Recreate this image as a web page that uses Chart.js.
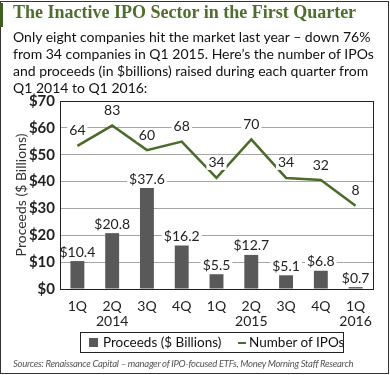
<!DOCTYPE html>
<html>
<head>
<meta charset="utf-8">
<script src="https://cdn.jsdelivr.net/npm/chart.js@4"></script>
<style>
  html, body { margin: 0; padding: 0; background: #fff; }
  #wrap { position: relative; width: 390px; height: 375px; overflow: hidden; }
  #frame { position: absolute; left: 0; top: 1px; width: 387px; height: 371px; border: 1px solid #333; }
  #bar { position: absolute; left: 0; top: 3px; width: 3px; height: 24px; background: #3f5e24; }
  #title { position: absolute; left: 13px; top: 2px; font: bold 18px "Liberation Serif", serif; color: #4f6e2e; white-space: nowrap; }
  #sub { position: absolute; left: 13px; top: 28px; font: 14px Lato, sans-serif; line-height: 17px; color: #111; white-space: nowrap; }
  #chart { position: absolute; left: 0; top: 0; }
  #legend { position: absolute; left: 80px; top: 332px; width: 262px; height: 19px; border: 1px solid #222; white-space: nowrap;
            font: 13.5px Lato, sans-serif; color: #111; }
  #legend span { position: absolute; top: 1px; }
  .sw { position: absolute; left: 8px; top: 5px; width: 9px; height: 9px; background: #595959; }
  .ln { position: absolute; left: 157px; top: 9px; width: 8px; height: 2px; background: #4a6b2a; }
  #src { position: absolute; left: 13px; top: 358px; font: italic 9.5px Lato, sans-serif; color: #555; white-space: nowrap; letter-spacing: -0.28px; }
</style>
</head>
<body>
<div id="wrap">
  <canvas id="chart" width="390" height="375"></canvas>
  <div id="frame"></div>
  <div id="bar"></div>
  <div id="title">The Inactive IPO Sector in the First Quarter</div>
  <div id="sub">Only eight companies hit the market last year – down 76%<br>from 34 companies in Q1 2015. Here’s the number of IPOs<br>and proceeds (in $billions) raised during each quarter from<br>Q1 2014 to Q1 2016:</div>
  <div id="legend"><i class="sw"></i><span style="left:22px">Proceeds ($ Billions)</span><i class="ln"></i><span style="left:168px">Number of IPOs</span></div>
  <div id="src">Sources: Renaissance Capital – manager of IPO-focused ETFs, Money Morning Staff Research</div>
</div>
<script>
const quarters = [["1Q"], ["2Q", "2014"], ["3Q"], ["4Q"], ["1Q"], ["2Q", "2015"], ["3Q"], ["4Q"], ["1Q", "2016"]];
const proceeds = [10.4, 20.8, 37.6, 16.2, 5.5, 12.7, 5.1, 6.8, 0.7];
const ipoCounts = [64, 83, 60, 68, 34, 70, 34, 32, 8];
const yTicks = [0, 10, 20, 30, 40, 50, 60, 70];

const font = "Lato, sans-serif";

// box round the plot area
const frameBox = {
  id: "frameBox",
  afterDraw(chart) {
    const a = chart.chartArea, c = chart.ctx;
    c.save();
    c.strokeStyle = "#222";
    c.lineWidth = 1;
    c.strokeRect(Math.round(a.left) + 0.5, Math.round(a.top) + 0.5, Math.round(a.width), Math.round(a.height));
    c.restore();
  }
};

// value labels with white backing
const valueLabels = {
  id: "valueLabels",
  afterDatasetsDraw(chart) {
    const c = chart.ctx;
    c.save();
    c.font = "14px " + font;
    c.textAlign = "center";
    c.textBaseline = "middle";
    chart.data.datasets.forEach((ds, i) => {
      const meta = chart.getDatasetMeta(i);
      meta.data.forEach((el, j) => {
        const txt = ds.labelText[j];
        const w = c.measureText(txt).width + 4;
        const y = ds.type === "bar" ? el.y - 9 : el.y - 15;
        c.fillStyle = "#fff";
        c.fillRect(el.x - w / 2, y - 7, w, 14);
        c.fillStyle = "#222";
        c.fillText(txt, el.x, y);
      });
    });
    c.restore();
  }
};

new Chart(document.getElementById("chart"), {
  data: {
    labels: quarters,
    datasets: [
      {
        type: "line",
        label: "Number of IPOs",
        data: ipoCounts,
        labelText: ipoCounts.map(String),
        yAxisID: "y1",
        borderColor: "#4a6b2a",
        borderWidth: 2.5,
        pointRadius: 0,
        tension: 0,
        order: 0
      },
      {
        type: "bar",
        label: "Proceeds ($ Billions)",
        data: proceeds,
        labelText: proceeds.map(v => "$" + v),
        yAxisID: "y",
        backgroundColor: "#595959",
        categoryPercentage: 0.8,
        barPercentage: 0.5,
        order: 1
      }
    ]
  },
  options: {
    responsive: false,
    animation: false,
    layout: { padding: { top: 101, right: 17, bottom: 46, left: 0 } },
    plugins: {
      legend: { display: false },
      tooltip: { enabled: false }
    },
    scales: {
      x: {
        grid: { display: false },
        border: { color: "#222" },
        ticks: { color: "#222", font: { family: font, size: 14, lineHeight: 1.05 }, padding: 2, maxRotation: 0, autoSkip: false },
        afterFit(s) { s.height = 40; }
      },
      y: {
        min: 0, max: 70,
        afterBuildTicks(s) { s.ticks = yTicks.map(v => ({ value: v })); },
        grid: { color: "#a6a6a6", drawTicks: false },
        border: { color: "#222" },
        ticks: { color: "#222", font: { family: font, size: 15, weight: "bold" }, padding: 5, callback: v => "$" + v },
        title: { display: true, text: "Proceeds ($ Billions)", color: "#333", font: { family: font, size: 14 }, padding: { top: 13, bottom: 0 } },
        afterFit(s) { s.width = 60; }
      },
      y1: {
        display: false,
        min: -70, max: 106
      }
    }
  },
  plugins: [frameBox, valueLabels]
});
</script>
</body>
</html>
